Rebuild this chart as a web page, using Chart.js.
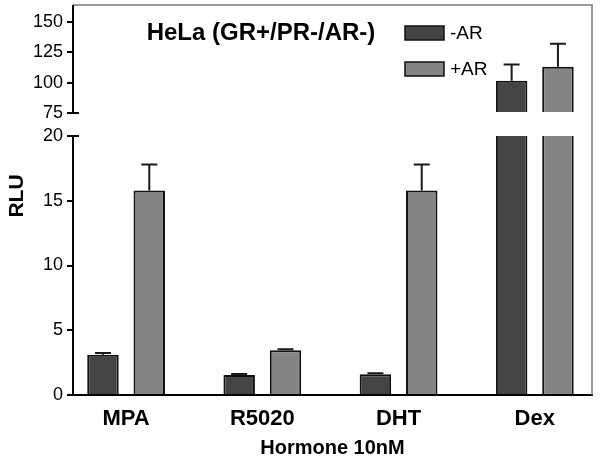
<!DOCTYPE html>
<html>
<head>
<meta charset="utf-8">
<script src="https://cdn.jsdelivr.net/npm/chart.js@4"></script>
<style>
  html, body { margin: 0; padding: 0; background: #fff; }
  #wrap { width: 600px; height: 464px; }
</style>
</head>
<body>
<div id="wrap"><canvas id="chartRlu" width="600" height="464"></canvas></div>
<script>
// HeLa (GR+/PR-/AR-) - RLU com eixo quebrado
const categorias = ['MPA', 'R5020', 'DHT', 'Dex']
const menosAR = [3.1, 1.55, 1.6, 101.5]
const menosARErro = [0.15, 0.08, 0.08, 13.5]
const maisAR = [15.8, 3.45, 15.8, 113]
const maisARErro = [2.0, 0.08, 2.0, 19]

const ticksBaixo = [0, 5, 10, 15, 20]
const ticksAlto = [75, 100, 125, 150]
const BAIXO_MAX = 20
const ALTO_MIN = 75

const corEscura = '#444444'
const corClara = '#858585'
const fonte = "'Liberation Sans', Arial, sans-serif"

function parteBaixa(valores) {
  return valores.map((v, i) => ({ x: i, y: Math.min(v, BAIXO_MAX) }))
}

function parteAlta(valores) {
  return valores.map((v, i) => ({ x: i, y: v > ALTO_MIN ? v : null }))
}

function bordaBaixa(valores) {
  return (ctx) => valores[ctx.dataIndex] > BAIXO_MAX
    ? { top: 0, left: 2, right: 2, bottom: 0 }
    : 2
}

const barraBase = {
  borderColor: '#111',
  categoryPercentage: 0.68,
  barPercentage: 0.68,
}

const dados = {
  datasets: [
    { ...barraBase, label: '-AR', data: parteBaixa(menosAR), erros: menosARErro, valores: menosAR, parte: 'baixo',
      backgroundColor: corEscura, borderWidth: bordaBaixa(menosAR), yAxisID: 'y', stack: 'menos' },
    { ...barraBase, label: '+AR', data: parteBaixa(maisAR), erros: maisARErro, valores: maisAR, parte: 'baixo',
      backgroundColor: corClara, borderWidth: bordaBaixa(maisAR), yAxisID: 'y', stack: 'mais' },
    { ...barraBase, label: '-AR', data: parteAlta(menosAR), erros: menosARErro, valores: menosAR, parte: 'alto',
      backgroundColor: corEscura, borderWidth: 2, base: ALTO_MIN, yAxisID: 'y2', stack: 'menos' },
    { ...barraBase, label: '+AR', data: parteAlta(maisAR), erros: maisARErro, valores: maisAR, parte: 'alto',
      backgroundColor: corClara, borderWidth: 2, base: ALTO_MIN, yAxisID: 'y2', stack: 'mais' },
  ]
}

// barras de erro (só para cima)
const pluginErros = {
  id: 'erros',
  afterDatasetsDraw(chart) {
    const ctx = chart.ctx
    ctx.save()
    ctx.strokeStyle = '#1a1a1a'
    ctx.lineWidth = 2
    chart.data.datasets.forEach((ds, di) => {
      const meta = chart.getDatasetMeta(di)
      const escala = chart.scales[ds.yAxisID]
      meta.data.forEach((barra, i) => {
        const v = ds.valores[i]
        const noAlto = v > BAIXO_MAX
        if ((ds.parte === 'alto') !== noAlto) return
        const yTopo = escala.getPixelForValue(v)
        const yErro = escala.getPixelForValue(v + ds.erros[i])
        ctx.beginPath()
        ctx.moveTo(barra.x, yTopo)
        ctx.lineTo(barra.x, yErro)
        ctx.moveTo(barra.x - 8, yErro)
        ctx.lineTo(barra.x + 8, yErro)
        ctx.stroke()
      })
    })
    ctx.restore()
  }
}

// moldura, eixo quebrado, título, legenda e RLU
const pluginDecoracao = {
  id: 'decoracao',
  afterDraw(chart) {
    const ctx = chart.ctx
    const area = chart.chartArea
    const yAlto = chart.scales.y2
    const yBaixo = chart.scales.y
    ctx.save()

    ctx.strokeStyle = '#7a7a7a'
    ctx.lineWidth = 1.5
    ctx.beginPath()
    ctx.moveTo(area.left, area.top)
    ctx.lineTo(area.right, area.top)
    ctx.lineTo(area.right, area.bottom)
    ctx.stroke()

    const y75 = yAlto.getPixelForValue(ALTO_MIN)
    const y20 = yBaixo.getPixelForValue(BAIXO_MAX)
    ctx.strokeStyle = '#000'
    ctx.lineWidth = 2
    ctx.beginPath()
    ctx.moveTo(area.left, area.top)
    ctx.lineTo(area.left, y75)
    ctx.moveTo(area.left, y75)
    ctx.lineTo(area.left + 6, y75)
    ctx.moveTo(area.left, y20)
    ctx.lineTo(area.left + 6, y20)
    ctx.stroke()

    ctx.fillStyle = '#000'
    ctx.textAlign = 'center'
    ctx.textBaseline = 'middle'
    ctx.font = `bold 24px ${fonte}`
    ctx.fillText('HeLa (GR+/PR-/AR-)', 261, 33)

    ctx.save()
    ctx.translate(17, 196)
    ctx.rotate(-Math.PI / 2)
    ctx.font = `bold 21px ${fonte}`
    ctx.fillText('RLU', 0, 0)
    ctx.restore()

    ctx.textAlign = 'left'
    ctx.font = `19px ${fonte}`
    chart.data.datasets.slice(0, 2).forEach((ds, i) => {
      const y = 26 + i * 36
      ctx.fillStyle = ds.backgroundColor
      ctx.fillRect(405, y, 39, 14)
      ctx.strokeStyle = '#111'
      ctx.lineWidth = 1.5
      ctx.strokeRect(405, y, 39, 14)
      ctx.fillStyle = '#000'
      ctx.fillText(ds.label, 450, y + 8)
    })
    ctx.restore()
  }
}

function semPadding(s) {
  s.paddingTop = 0
  s.paddingBottom = 0
}

const config = {
  type: 'bar',
  data: dados,
  options: {
    responsive: false,
    animation: false,
    layout: { padding: { top: 5, right: 8, left: 0, bottom: 0 } },
    plugins: { legend: { display: false }, tooltip: { enabled: false } },
    scales: {
      x: {
        type: 'linear',
        min: -0.39,
        max: 3.42,
        offset: false,
        grid: { display: false, drawTicks: false },
        border: { display: true, color: '#000', width: 2 },
        afterBuildTicks: (s) => { s.ticks = categorias.map((c, i) => ({ value: i })) },
        afterFit: (s) => { s.height = 69; s.paddingLeft = 0; s.paddingRight = 0 },
        ticks: {
          color: '#000',
          padding: 11,
          font: { family: fonte, size: 22, weight: 'bold' },
          callback: (v) => categorias[v]
        },
        title: {
          display: true,
          text: 'Hormone 10nM',
          color: '#000',
          padding: { top: 0, bottom: 4 },
          font: { family: fonte, size: 20, weight: 'bold' }
        }
      },
      y: {
        stack: 'rlu',
        stackWeight: 259,
        stacked: false,
        min: 0,
        max: BAIXO_MAX,
        afterBuildTicks: (s) => { s.ticks = ticksBaixo.map(v => ({ value: v })) },
        afterFit: (s) => { s.width = 73; semPadding(s) },
        grid: { drawOnChartArea: false, drawTicks: true, tickLength: 6, color: '#000', lineWidth: 2 },
        border: { display: true, color: '#000', width: 2 },
        ticks: { color: '#000', padding: 4, font: { family: fonte, size: 18 } }
      },
      y2: {
        stack: 'rlu',
        stackWeight: 131,
        stacked: false,
        min: 56,
        max: 164,
        afterBuildTicks: (s) => { s.ticks = ticksAlto.map(v => ({ value: v })) },
        afterFit: (s) => { s.width = 73; semPadding(s) },
        grid: { drawOnChartArea: false, drawTicks: true, tickLength: 6, color: '#000', lineWidth: 2 },
        border: { display: false },
        ticks: { color: '#000', padding: 4, font: { family: fonte, size: 18 } }
      }
    }
  },
  plugins: [pluginErros, pluginDecoracao]
}

const grafico = new Chart(document.getElementById('chartRlu'), config)
</script>
</body>
</html>
